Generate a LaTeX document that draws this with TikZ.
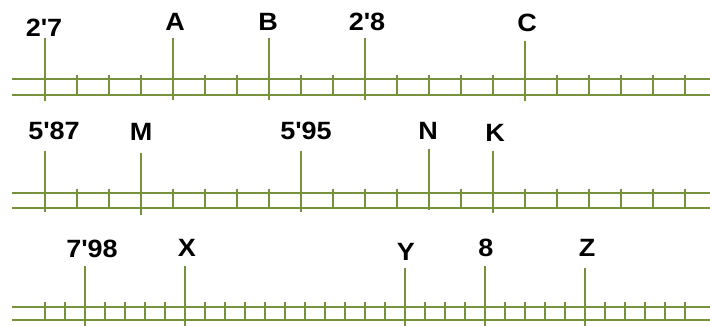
\documentclass[tikz,border=0pt]{standalone}
\usepackage{fontspec}
\setmainfont{Liberation Sans}
\definecolor{railgreen}{HTML}{76923C}
\newcommand{\ap}{\textquotesingle}
\tikzset{
  lbl/.style={font=\fontsize{25}{25}\selectfont\bfseries, anchor=base, inner sep=0pt, xscale=1.08},
  railline/.style={draw=railgreen, line width=1.8pt},
  minortick/.style={draw=railgreen, line width=1.8pt},
  majortick/.style={draw=railgreen, line width=1.8pt}
}
\begin{document}
\begin{tikzpicture}[x=1pt,y=-1pt]
\useasboundingbox (0,0) rectangle (710,326);

% ---------- first scale: 2'7 ... 2'8, step 0.01 ----------
\coordinate (r1a) at (12,79);  \coordinate (r1ae) at (710,79);
\coordinate (r1b) at (12,95);  \coordinate (r1be) at (710,95);
\draw[railline] (r1a) -- (r1ae);
\draw[railline] (r1b) -- (r1be);
\foreach \i in {0,...,20}{
  \draw[minortick] (45+32*\i,75) -- (45+32*\i,95);
}
\node[lbl] (l27) at (44,37) {2\ap 7};
\node[lbl] (lA)  at (175,31) {A};
\node[lbl] (lB)  at (268,31) {B};
\node[lbl] (l28) at (367,31) {2\ap 8};
\node[lbl] (lC)  at (527,31.5) {C};
\coordinate (t27) at (45,38);  \coordinate (b27) at (45,101);
\coordinate (tA)  at (173,38); \coordinate (bA)  at (173,100);
\coordinate (tB)  at (269,38); \coordinate (bB)  at (269,100);
\coordinate (t28) at (365,38); \coordinate (b28) at (365,100);
\coordinate (tC)  at (525,41); \coordinate (bC)  at (525,101);
\foreach \t in {27,A,B,28,C}{ \draw[majortick] (t\t) -- (b\t); }

% ---------- second scale: 5'87 ... , step 0.01 ----------
\coordinate (r2a) at (12,193); \coordinate (r2ae) at (710,193);
\coordinate (r2b) at (12,208); \coordinate (r2be) at (710,208);
\draw[railline] (r2a) -- (r2ae);
\draw[railline] (r2b) -- (r2be);
\foreach \i in {0,...,20}{
  \draw[minortick] (45+32*\i,189) -- (45+32*\i,208);
}
\node[lbl] (l587) at (54,140) {5\ap 87};
\node[lbl] (lM)   at (141,140.5) {M};
\node[lbl] (l595) at (306,140) {5\ap 95};
\node[lbl] (lN)   at (428,139.5) {N};
\node[lbl] (lK)   at (495,142) {K};
\coordinate (t587) at (45,151);  \coordinate (b587) at (45,212);
\coordinate (tM)   at (141,153); \coordinate (bM)   at (141,215);
\coordinate (t595) at (301,151); \coordinate (b595) at (301,212);
\coordinate (tN)   at (429,149); \coordinate (bN)   at (429,210);
\coordinate (tK)   at (493,151); \coordinate (bK)   at (493,213);
\foreach \t in {587,M,595,N,K}{ \draw[majortick] (t\t) -- (b\t); }

% ---------- third scale: 7'98 ... 8, step 0.001 ----------
\coordinate (r3a) at (12,307); \coordinate (r3ae) at (710,307);
\coordinate (r3b) at (12,320); \coordinate (r3be) at (710,320);
\draw[railline] (r3a) -- (r3ae);
\draw[railline] (r3b) -- (r3be);
\foreach \i in {0,...,32}{
  \draw[minortick] (45+20*\i,302) -- (45+20*\i,320);
}
\node[lbl] (l798) at (92,258) {7\ap 98};
\node[lbl] (lX)   at (187,256) {X};
\node[lbl] (lY)   at (406,260.5) {Y};
\node[lbl] (l8)   at (486,256) {8};
\node[lbl] (lZ)   at (587,256) {Z};
\coordinate (t798) at (85,266);  \coordinate (b798) at (85,328);
\coordinate (tX)   at (185,266); \coordinate (bX)   at (185,328);
\coordinate (tY)   at (405,267.5); \coordinate (bY) at (405,328);
\coordinate (t8)   at (485,265.5); \coordinate (b8) at (485,328);
\coordinate (tZ)   at (585,267.5); \coordinate (bZ) at (585,328);
\foreach \t in {798,X,Y,8,Z}{ \draw[majortick] (t\t) -- (b\t); }
\end{tikzpicture}
\end{document}
